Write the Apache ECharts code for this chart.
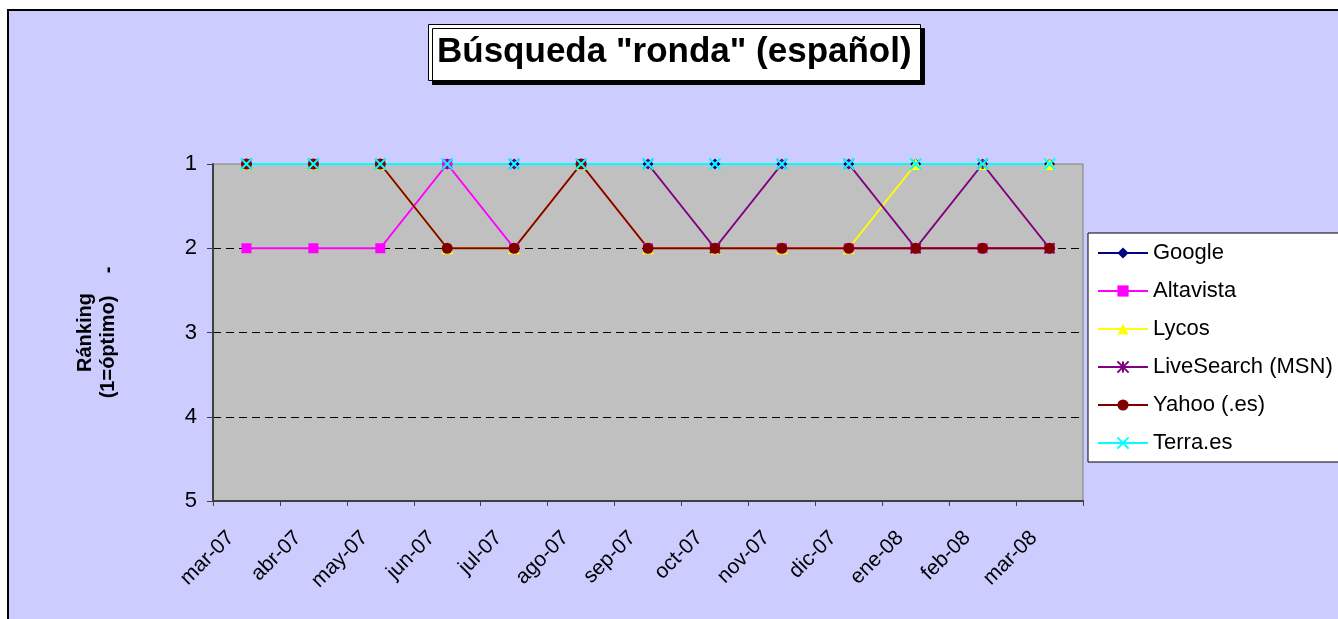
<!DOCTYPE html>
<html>
<head>
<meta charset="utf-8">
<title>Búsqueda "ronda" (español)</title>
<script src="https://cdn.jsdelivr.net/npm/echarts@6/dist/echarts.min.js"></script>
<style>
  html, body { margin: 0; padding: 0; background: #fff; }
  #main { width: 1338px; height: 619px; }
</style>
</head>
<body>
<div id="main"></div>
<script>
// meses del eje X
const months = ['mar-07', 'abr-07', 'may-07', 'jun-07', 'jul-07', 'ago-07', 'sep-07',
  'oct-07', 'nov-07', 'dic-07', 'ene-08', 'feb-08', 'mar-08'];

// posición en el ranking (1 = óptimo)
const google     = [1, 1, 1, 1, 1, 1, 1, 1, 1, 1, 1, 1, 1];
const altavista  = [2, 2, 2, 1, 2, 1, 2, 2, 2, 2, 2, 2, 2];
const lycos      = [1, 1, 1, 2, 2, 1, 2, 2, 2, 2, 1, 1, 1];
const liveSearch = [1, 1, 1, 1, 1, 1, 1, 2, 1, 1, 2, 1, 2];
const yahoo      = [1, 1, 1, 2, 2, 1, 2, 2, 2, 2, 2, 2, 2];
const terra      = [1, 1, 1, 1, 1, 1, 1, 1, 1, 1, 1, 1, 1];

const rankTicks = [1, 2, 3, 4, 5];

const FONT = 'Arial, "Liberation Sans", sans-serif';
const ASTERISK = 'path://M5,0L5,10M0,0L10,10M10,0L0,10';
const CROSS = 'path://M0,0L10,10M10,0L0,10';

function lineSeries(name, data, color, symbol, size, stroked) {
  return {
    name: name,
    type: 'line',
    data: data,
    symbol: symbol,
    symbolSize: size,
    showSymbol: true,
    animation: false,
    lineStyle: { color: color, width: 2 },
    itemStyle: stroked
      ? { color: 'rgba(0,0,0,0)', borderColor: color, borderWidth: 2 }
      : { color: color, borderWidth: 0 },
    emphasis: { disabled: true }
  };
}

const chart = echarts.init(document.getElementById('main'), null, { renderer: 'canvas' });

chart.setOption({
  backgroundColor: '#ffffff',
  animation: false,
  textStyle: { fontFamily: FONT },
  graphic: [
    {
      type: 'rect',
      z: -100,
      silent: true,
      shape: { x: 8, y: 10, width: 1400, height: 700 },
      style: { fill: '#CCCCFF', stroke: '#000', lineWidth: 2 }
    }
  ],
  title: {
    text: 'Búsqueda "ronda" (español)',
    left: 428,
    top: 24,
    padding: [11, 9, 11, 9],
    backgroundColor: '#ffffff',
    borderColor: '#000000',
    borderWidth: 1,
    shadowColor: '#000000',
    shadowOffsetX: 4,
    shadowOffsetY: 4,
    shadowBlur: 0,
    textStyle: { fontFamily: FONT, fontSize: 35, fontWeight: 'bold', color: '#000' }
  },
  legend: {
    orient: 'vertical',
    left: 1088,
    top: 233,
    padding: [9, 20, 8, 9],
    itemGap: 16,
    itemWidth: 50,
    itemHeight: 14,
    backgroundColor: '#ffffff',
    borderColor: '#000000',
    borderWidth: 1,
    selectedMode: false,
    textStyle: { fontFamily: FONT, fontSize: 22, color: '#000', padding: [0, 0, 0, 0] }
  },
  grid: {
    left: 213,
    top: 164,
    right: 255,
    bottom: 118,
    show: true,
    backgroundColor: '#C0C0C0',
    borderColor: '#808080',
    borderWidth: 1
  },
  xAxis: {
    type: 'category',
    data: months,
    boundaryGap: true,
    axisLine: { lineStyle: { color: '#404040', width: 2 } },
    axisTick: { show: true, length: 5, lineStyle: { color: '#404040', width: 1 } },
    axisLabel: {
      rotate: 45,
      interval: 0,
      margin: 18,
      padding: [0, 22, 0, 0],
      fontFamily: FONT,
      fontSize: 21,
      color: '#000'
    },
    splitLine: { show: false }
  },
  yAxis: {
    type: 'value',
    inverse: true,
    min: rankTicks[0],
    max: rankTicks[rankTicks.length - 1],
    interval: 1,
    name: 'Ránking\n(1=óptimo)    -',
    nameLocation: 'middle',
    nameGap: 93,
    nameTextStyle: { fontFamily: FONT, fontSize: 20, fontWeight: 'bold', color: '#000', lineHeight: 23 },
    axisLine: { show: true, lineStyle: { color: '#404040', width: 2 } },
    axisTick: { show: true, length: 6, lineStyle: { color: '#404040', width: 1 } },
    axisLabel: { fontFamily: FONT, fontSize: 22, color: '#000', margin: 16 },
    splitLine: {
      show: true,
      lineStyle: {
        color: ['rgba(0,0,0,0)', '#000', '#000', '#000', 'rgba(0,0,0,0)'],
        type: [8, 5],
        width: 1
      }
    }
  },
  series: [
    lineSeries('Google', google, '#000080', 'diamond', 11, false),
    lineSeries('Altavista', altavista, '#FF00FF', 'rect', 10, false),
    lineSeries('Lycos', lycos, '#FFFF00', 'triangle', 12, false),
    lineSeries('LiveSearch (MSN)', liveSearch, '#800080', ASTERISK, 10, true),
    lineSeries('Yahoo (.es)', yahoo, '#800000', 'circle', 11, false),
    lineSeries('Terra.es', terra, '#00FFFF', CROSS, 11, true)
  ]
});

window.addEventListener('resize', () => chart.resize());
</script>
</body>
</html>
